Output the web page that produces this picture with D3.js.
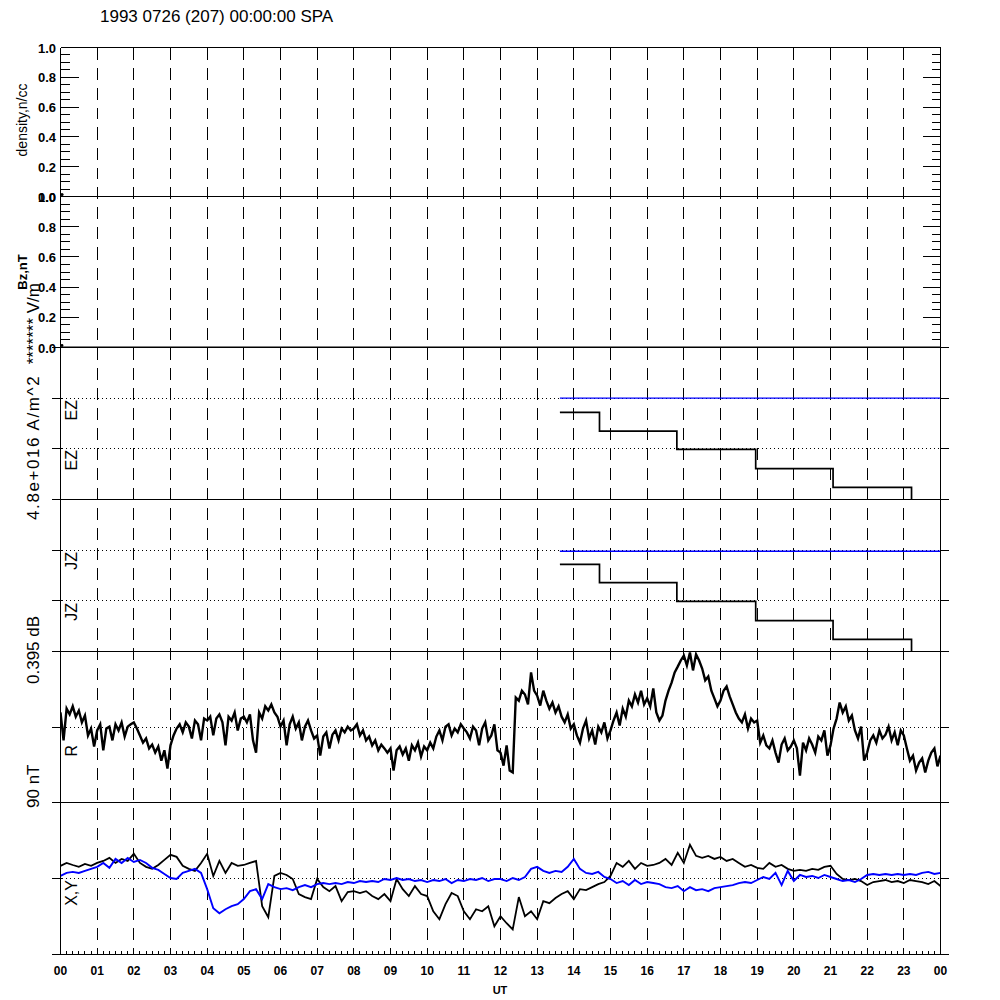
<!DOCTYPE html>
<html><head><meta charset="utf-8">
<script src="https://cdn.jsdelivr.net/npm/d3@7"></script>
<style>
body{margin:0;background:#fff}
svg{display:block}
text{font-family:"Liberation Sans",Arial,Helvetica,sans-serif;fill:#000}
</style>
</head><body><svg id="c" width="1000" height="1000"></svg>
<script>
// ---------------- DATA ----------------
const titleText = "1993 0726 (207) 00:00:00 SPA";
const hourLabels = ["00","01","02","03","04","05","06","07","08","09","10","11","12",
  "13","14","15","16","17","18","19","20","21","22","23","00"];
const unitTicks = [0, 0.2, 0.4, 0.6, 0.8, 1.0];
const unitTickLabels = ["0.0","0.2","0.4","0.6","0.8","1.0"];

// density (n/cc) and Bz (nT): only zero values
const densityTime = [0];
const densityVals = [0];
const bzTime = [0, 24];
const bzVals = [0, 0];

// EZ / JZ (in units of the dotted reference lines), stepped
const ezTime = [13.62, 14.70, 16.81, 18.96, 21.07, 23.21];
const ezVals = [1.72, 1.35, 0.99, 0.61, 0.24, 0];
const ezRefTime = [13.62, 24];
const ezRefVals = [2, 2];
const jzTime = [13.62, 14.70, 16.81, 18.96, 21.07, 23.21];
const jzVals = [1.72, 1.36, 0.99, 0.61, 0.24, 0];
const jzRefTime = [13.62, 24];
const jzRefVals = [1.98, 1.98];

// R (milli-dB about the panel centre), 5-minute samples from 00:00 to 24:00
const rStepMin = 5;
const rVals = [
 38,-35,48,33,54,27,43,12,30,-22,-4,-51,
 -9,7,-61,-4,1,-35,7,-9,12,-25,1,7,
 12,-4,-22,-41,-30,-56,-46,-67,-51,-88,-61,-109,
 -48,-22,-4,7,-14,12,1,-30,17,7,-35,22,
 17,27,-22,22,33,12,-48,27,17,38,-9,22,
 27,12,33,-35,-67,38,22,54,43,59,38,27,
 1,17,-48,7,27,-4,12,-35,1,17,-9,-30,
 -22,-75,-25,-14,-56,-20,-9,-35,-4,-14,1,-9,
 -4,7,-22,-9,-35,-25,-48,-35,-61,-46,-56,-67,
 -56,-114,-61,-51,-72,-56,-88,-48,-61,-41,-77,-51,
 -61,-41,-56,-25,-9,-35,1,7,-22,-4,-14,7,
 -4,-14,-30,1,-9,-48,-4,12,-35,-22,7,-61,
 -67,-101,-48,-114,-119,77,69,95,85,59,143,95,
 82,56,95,69,48,64,38,54,27,12,33,-4,
 7,-22,-41,-4,17,-30,-9,-46,1,-14,12,-30,
 -9,17,38,4,48,27,69,54,85,64,95,59,
 75,54,101,38,17,30,69,95,116,143,158,174,
 187,161,195,148,190,174,153,122,132,95,75,54,
 69,95,106,80,59,38,22,12,33,-4,22,12,
 17,-41,-22,-48,-56,-35,-67,-93,-46,-30,-61,-51,
 -35,-56,-127,-41,-61,-30,-46,-67,-25,-35,-9,-75,
 -48,-4,22,64,38,54,17,30,-9,-30,1,-88,
 -67,-35,-22,-41,-9,-30,-20,1,-35,-14,-48,-9,
 -22,-56,-88,-75,-114,-93,-82,-119,-88,-67,-56,-103,-75
];

// X, Y (nT), 10-minute samples from 00:00 to 24:00
const xyStepMin = 10;
const xVals = [
 7.5,9.2,8.0,6.9,8.6,7.5, 9.2,10.4,12.2,9.2,11.6,10.4,
 14.6,9.2,6.9,5.7,8.0,11.0, 14.0,12.8,7.5,5.7,4.5,9.2,
 14.6,1.5,10.4,3.3,9.2,7.5, 8.0,9.2,10.4,-16.4,-22.9,1.5,
 3.3,2.1,-0.3,-9.2,-11.0,-12.2, -0.3,-5.1,-7.5,-4.5,-13.4,-8.0,
 -7.5,-8.6,-7.5,-10.4,-12.2,-9.2, -13.4,-0.3,-6.3,-10.4,-4.5,-9.2,
 -10.4,-19.4,-24.1,-15.2,-8.6,-10.4, -19.4,-24.1,-18.2,-19.4,-16.4,-28.3,
 -22.3,-26.5,-30.1,-11.0,-22.3,-19.4, -24.1,-13.4,-14.6,-11.6,-9.2,-7.5,
 -12.2,-6.3,-6.9,-5.1,-3.3,-2.1, 1.5,9.2,6.9,10.4,5.7,9.2,
 7.5,8.0,9.2,11.6,8.0,15.2, 9.2,20.0,13.4,12.2,13.4,11.6,
 12.8,10.4,11.6,9.2,6.9,8.0, 6.3,5.7,9.2,6.9,8.0,5.7,
 4.5,5.1,4.5,5.7,5.1,6.9, 7.5,2.7,-0.3,-0.9,-0.3,-1.5,
 -3.9,-2.1,-1.5,-0.9,-2.1,-1.5, -2.7,-0.9,-1.5,-2.1,-3.3,-1.5,-4.5
];
const yVals = [
 1.5,3.3,3.9,3.3,4.5,5.7, 6.9,9.2,6.3,11.6,9.2,12.2,
 9.8,11.0,9.2,6.3,5.1,2.7, 0.3,-0.3,3.3,4.5,5.7,3.3,
 -6.3,-17.6,-20.6,-18.2,-16.4,-15.2, -12.2,-7.5,-6.3,-12.2,-3.3,-5.1,
 -6.3,-5.7,-6.9,-5.1,-3.9,-5.1, -3.3,-2.7,-3.3,-2.7,-3.3,-2.1,
 -2.7,-1.5,-2.1,-1.5,-2.1,-0.3, -0.9,0.3,-0.9,-0.3,-1.5,-0.9,
 -2.1,-0.9,-1.5,-0.3,-2.7,-0.9, -1.5,-0.3,-0.9,0.3,-1.5,-0.3,
 -0.3,-1.5,0.3,-0.9,0.9,5.7, 6.9,4.5,3.3,4.5,3.9,6.9,
 11.6,5.7,3.3,2.7,3.9,0.9, -0.3,-2.7,-1.5,-3.9,-0.9,-3.3,
 -2.1,-2.7,-3.3,-5.1,-5.7,-4.5, -7.5,-5.1,-6.9,-6.3,-7.5,-5.7,
 -5.1,-4.5,-3.9,-2.7,-2.1,-2.7, -0.9,0.9,-0.3,3.3,-3.9,4.5,
 -1.5,2.1,0.9,1.5,0.3,2.1, 0.9,-0.3,-1.5,-0.9,-2.1,-0.3,
 2.1,2.7,2.1,2.7,2.1,2.7, 2.1,2.7,2.1,3.3,3.9,2.7,3.3
];

// ---------------- LAYOUT ----------------
const svg = d3.select("#c");
const X = d3.scaleLinear().domain([0, 24]).range([60.5, 940.5]);
const L = 60.5, R = 940.5;
const panels = [
  {top: 47.5, bot: 196.5},
  {top: 196.5, bot: 347.5},
  {top: 347.5, bot: 499.5},
  {top: 499.5, bot: 651.5},
  {top: 651.5, bot: 802.5},
  {top: 802.5, bot: 954.5}
];
const yDen = d3.scaleLinear().domain([0, 1]).range([panels[0].bot, panels[0].top]);
const yBz  = d3.scaleLinear().domain([0, 1]).range([panels[1].bot, panels[1].top]);
const yEz  = d3.scaleLinear().domain([0, 3]).range([panels[2].bot, panels[2].top]);
const yJz  = d3.scaleLinear().domain([0, 3]).range([panels[3].bot, panels[3].top]);
const yR   = d3.scaleLinear().domain([-197.5, 197.5]).range([panels[4].bot, panels[4].top]);
const yXY  = d3.scaleLinear().domain([-45, 45]).range([panels[5].bot, panels[5].top]);

const crisp = v => Math.round(v - 0.5) + 0.5;

// clip paths
const defs = svg.append("defs");
panels.forEach((p, i) => {
  defs.append("clipPath").attr("id", "clip" + i)
    .append("rect").attr("x", L).attr("y", p.top).attr("width", R - L).attr("height", p.bot - p.top);
});

// hourly dashed lines
const grid = svg.append("g").attr("shape-rendering", "crispEdges");
grid.selectAll("line.hr").data(d3.range(1, 24)).join("line")
  .attr("x1", d => crisp(X(d))).attr("x2", d => crisp(X(d)))
  .attr("y1", panels[0].top).attr("y2", panels[5].bot)
  .attr("stroke", "#000").attr("stroke-width", 1).attr("stroke-dasharray", "12,8");

// dotted reference lines
const dotted = [
  {s: yEz, v: 1}, {s: yEz, v: 2}, {s: yJz, v: 1}, {s: yJz, v: 2}, {s: yR, v: 0}, {s: yXY, v: 0}
];
grid.selectAll("line.dot").data(dotted).join("line")
  .attr("x1", 62).attr("x2", R)
  .attr("y1", d => crisp(d.s(d.v))).attr("y2", d => crisp(d.s(d.v)))
  .attr("stroke", "#000").attr("stroke-width", 1).attr("stroke-dasharray", "1,3");

// ---------------- DATA MARKS ----------------
const zip = (t, v) => t.map((tt, i) => ({t: tt, v: v[i]}));
const timeSeries = (vals, stepMin) => vals.map((v, i) => ({t: i * stepMin / 60, v}));

function drawLine(data, ys, clipIdx, color, width, curve) {
  const gen = d3.line().x(d => X(d.t)).y(d => ys(d.v));
  if (curve) gen.curve(curve);
  svg.append("path").datum(data)
    .attr("clip-path", "url(#clip" + clipIdx + ")")
    .attr("d", gen).attr("fill", "none")
    .attr("stroke", color).attr("stroke-width", width)
    .attr("stroke-linejoin", "miter");
}

// density dot
svg.selectAll("circle.den").data(zip(densityTime, densityVals)).join("circle")
  .attr("cx", d => X(d.t) + 1.5).attr("cy", d => yDen(d.v) - 2).attr("r", 1.6).attr("fill", "#000");
// Bz
drawLine(zip(bzTime, bzVals), yBz, 1, "#000", 2.2);
svg.append("circle").attr("cx", X(0) + 1.5).attr("cy", yBz(0) - 2).attr("r", 1.4).attr("fill", "#000");
// EZ
drawLine(zip(ezRefTime, ezRefVals), yEz, 2, "#0000ff", 1.4);
drawLine(zip(ezTime, ezVals), yEz, 2, "#000", 1.7, d3.curveStepAfter);
// JZ
drawLine(zip(jzRefTime, jzRefVals), yJz, 3, "#0000ff", 1.4);
drawLine(zip(jzTime, jzVals), yJz, 3, "#000", 1.7, d3.curveStepAfter);
// R
drawLine(timeSeries(rVals, rStepMin), yR, 4, "#000", 2.4);
// X, Y
drawLine(timeSeries(xVals, xyStepMin), yXY, 5, "#000", 1.8);
drawLine(timeSeries(yVals, xyStepMin), yXY, 5, "#0000ff", 1.9);

// ---------------- FRAMES & TICKS ----------------
const ax = svg.append("g").attr("shape-rendering", "crispEdges").attr("stroke", "#000").attr("stroke-width", 1);
ax.append("line").attr("x1", L).attr("x2", L).attr("y1", panels[0].top).attr("y2", panels[5].bot);
ax.append("line").attr("x1", R).attr("x2", R).attr("y1", panels[0].top).attr("y2", panels[5].bot);
const borders = [panels[0].top].concat(panels.map(p => p.bot));
ax.selectAll("line.b").data(borders).join("line")
  .attr("x1", L).attr("x2", R).attr("y1", d => d).attr("y2", d => d);
ax.append("line").attr("x1", 51.5).attr("x2", L).attr("y1", panels[5].bot).attr("y2", panels[5].bot);

// panels 1-2: unit ticks (inward)
[yDen, yBz].forEach(ys => {
  const majors = unitTicks;
  const minors = d3.range(0, 1.0001, 0.05).filter(v => Math.abs(v * 5 - Math.round(v * 5)) > 1e-6);
  ax.selectAll(null).data(majors).join("line")
    .attr("x1", L).attr("x2", L + 18).attr("y1", d => crisp(ys(d))).attr("y2", d => crisp(ys(d)));
  ax.selectAll(null).data(majors).join("line")
    .attr("x1", R).attr("x2", R - 18).attr("y1", d => crisp(ys(d))).attr("y2", d => crisp(ys(d)));
  ax.selectAll(null).data(minors).join("line")
    .attr("x1", L).attr("x2", L + 9).attr("y1", d => crisp(ys(d))).attr("y2", d => crisp(ys(d)));
  ax.selectAll(null).data(minors).join("line")
    .attr("x1", R).attr("x2", R - 9).attr("y1", d => crisp(ys(d))).attr("y2", d => crisp(ys(d)));
});
// panels 3-6: outward ticks
const outTicks = [
  {s: yEz, vals: [0, 1, 2, 3]}, {s: yJz, vals: [0, 1, 2, 3]},
  {s: yR, vals: [-197.5, 0, 197.5]}, {s: yXY, vals: [-45, 0, 45]}
];
outTicks.forEach(o => {
  ax.selectAll(null).data(o.vals).join("line")
    .attr("x1", 51.5).attr("x2", 62).attr("y1", d => crisp(o.s(d))).attr("y2", d => crisp(o.s(d)));
  ax.selectAll(null).data(o.vals).join("line")
    .attr("x1", R).attr("x2", 949).attr("y1", d => crisp(o.s(d))).attr("y2", d => crisp(o.s(d)));
});
// bottom time axis ticks (10-minute minor, hourly major)
const minorT = d3.range(0, 24 * 6 + 1);
ax.selectAll(null).data(minorT).join("line")
  .attr("x1", d => crisp(X(d / 6))).attr("x2", d => crisp(X(d / 6)))
  .attr("y1", panels[5].bot).attr("y2", d => d % 6 === 0 ? panels[5].bot - 6 : panels[5].bot - 3.5);

// ---------------- TEXT ----------------
svg.append("text").attr("x", 100).attr("y", 21.5).attr("font-size", 17).text(titleText);

[yDen, yBz].forEach(ys => {
  svg.selectAll(null).data(unitTicks).join("text")
    .attr("x", 56).attr("y", d => ys(d) + 5)
    .attr("text-anchor", "end").attr("font-size", 13).attr("font-weight", "bold")
    .text((d, i) => unitTickLabels[i]);
});

svg.selectAll(null).data(hourLabels).join("text")
  .attr("x", (d, i) => X(i)).attr("y", 975)
  .attr("text-anchor", "middle").attr("font-size", 12).attr("font-weight", "bold")
  .text(d => d);
svg.append("text").attr("x", 500).attr("y", 994).attr("text-anchor", "middle")
  .attr("font-size", 11).attr("font-weight", "bold").text("UT");

function vtext(x, y, anchor, size, weight, str, spacing) {
  const t = svg.append("text").attr("transform", `translate(${x},${y}) rotate(-90)`)
    .attr("text-anchor", anchor).attr("font-size", size).attr("font-weight", weight).text(str);
  if (spacing) t.attr("letter-spacing", spacing);
}
vtext(27, 120, "middle", 14, "normal", "density,n/cc");
vtext(27, 272, "middle", 13, "bold", "Bz,nT");
vtext(39, 283, "end", 17, "normal", "******* V/m");
vtext(39, 520, "start", 17, "normal", "4.8e+016 A/m^2", 1.6);
vtext(39, 684, "start", 17, "normal", "0.395 dB");
vtext(39, 808, "start", 17, "normal", "90 nT");
vtext(77, 400, "end", 16, "normal", "EZ");
vtext(77, 450, "end", 16, "normal", "EZ");
vtext(77, 552, "end", 16, "normal", "JZ");
vtext(77, 603, "end", 16, "normal", "JZ");
vtext(77, 745, "end", 16, "normal", "R");
vtext(77, 880, "end", 16, "normal", "X,Y");
</script>
</body></html>
